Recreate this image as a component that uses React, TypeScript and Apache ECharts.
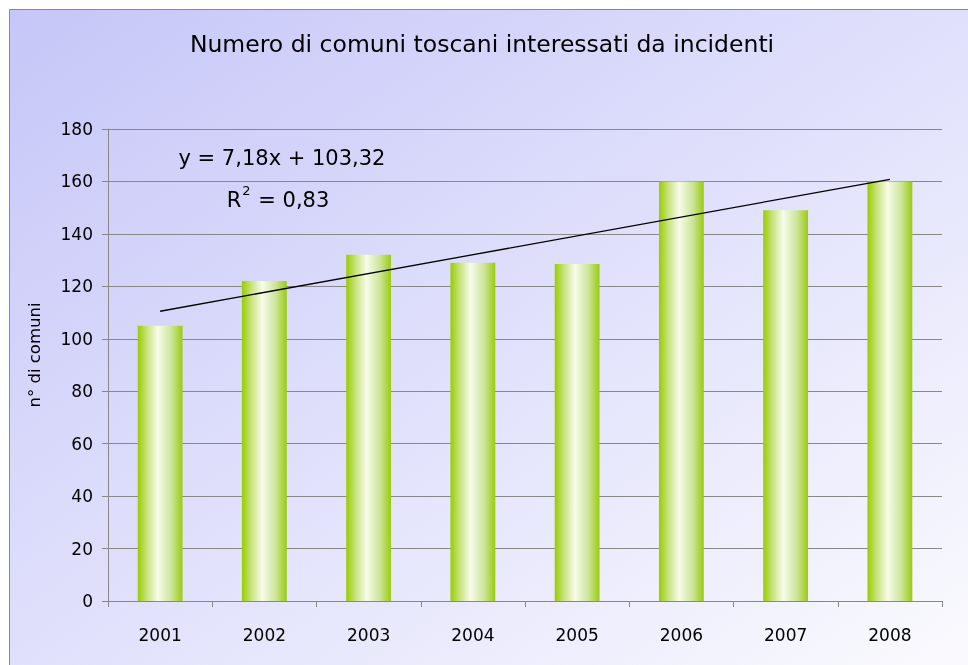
import React, { useEffect, useRef } from "react";
import * as echarts from "echarts";

const years = ["2001", "2002", "2003", "2004", "2005", "2006", "2007", "2008"];
const comuni = [105, 122, 132, 129, 128.5, 160, 149, 160];
// trend line endpoints (at 2001 and 2008)
const trend = [110.5, null, null, null, null, null, null, 160.8];
const yTicks = { min: 0, max: 180, interval: 20 };

const FONT = "'Comic Sans MS', 'DejaVu Sans', sans-serif";

export default function App() {
  const ref = useRef<HTMLDivElement>(null);
  useEffect(() => {
    const chart = echarts.init(ref.current!, null, { renderer: "svg" });
    const barGrad = new echarts.graphic.LinearGradient(0, 0, 1, 0, [
      { offset: 0, color: "#99cc00" },
      { offset: 0.2, color: "#c6e27a" },
      { offset: 0.45, color: "#f8fbea" },
      { offset: 0.75, color: "#cde59a" },
      { offset: 1, color: "#9acb10" },
    ]);
    chart.setOption({
      animation: false,
      textStyle: { fontFamily: FONT },
      graphic: [
        {
          type: "rect",
          z: -10,
          silent: true,
          shape: { x: 9.5, y: 9.5, width: 959.5, height: 656 },
          style: {
            fill: new echarts.graphic.LinearGradient(0, 0, 1, 1, [
              { offset: 0, color: "#c6c6f8" },
              { offset: 0.5, color: "#e0e0fc" },
              { offset: 1, color: "#fafafe" },
            ]),
            stroke: "#8a8a8a",
            lineWidth: 1,
          },
        },
        {
          type: "text",
          x: 482,
          y: 44,
          style: {
            text: "Numero di comuni toscani interessati da incidenti",
            font: "23.5px " + FONT,
            fill: "#000",
            align: "center",
            verticalAlign: "middle",
          },
        },
        {
          type: "text",
          x: 282,
          y: 158,
          style: {
            text: "y = 7,18x + 103,32",
            font: "21px " + FONT,
            fill: "#000",
            align: "center",
            verticalAlign: "middle",
          },
        },
        {
          type: "text",
          x: 278,
          y: 197,
          style: {
            text: "{a|R}{s|2}{a| = 0,83}",
            align: "center",
            verticalAlign: "middle",
            rich: {
              a: { fontSize: 21, fontFamily: FONT, fill: "#000", verticalAlign: "bottom" },
              s: { fontSize: 13, fontFamily: FONT, fill: "#000", verticalAlign: "top", padding: [0, 1, 13, 1] },
            },
          },
        },
        {
          type: "text",
          x: 34,
          y: 355,
          rotation: Math.PI / 2,
          style: {
            text: "n° di comuni",
            font: "16.5px " + FONT,
            fill: "#000",
            align: "center",
            verticalAlign: "middle",
          },
        },
      ],
      grid: { left: 108, right: 26, top: 129, bottom: 64 },
      xAxis: {
        type: "category",
        data: years,
        boundaryGap: true,
        axisLine: { lineStyle: { color: "#888", width: 1 } },
        axisTick: { show: true, length: 6, lineStyle: { color: "#888" } },
        axisLabel: { color: "#000", fontSize: 17, margin: 25, fontFamily: FONT },
      },
      yAxis: {
        type: "value",
        min: yTicks.min,
        max: yTicks.max,
        interval: yTicks.interval,
        axisLine: { show: true, lineStyle: { color: "#888", width: 1 } },
        axisTick: { show: true, length: 6, lineStyle: { color: "#888" } },
        axisLabel: { color: "#000", fontSize: 17, margin: 15, fontFamily: FONT },
        splitLine: { show: true, lineStyle: { color: "#888", width: 1 } },
      },
      series: [
        {
          type: "bar",
          data: comuni,
          barWidth: "43%",
          itemStyle: { color: barGrad },
          z: 2,
        },
        {
          type: "line",
          data: trend,
          connectNulls: true,
          symbol: "none",
          lineStyle: { color: "#000", width: 1.3 },
          z: 3,
        },
      ],
    });
    return () => chart.dispose();
  }, []);
  return (
    <div
      ref={ref}
      style={{ position: "fixed", left: 0, top: 0, width: 968, height: 665, overflow: "hidden" }}
    />
  );
}
